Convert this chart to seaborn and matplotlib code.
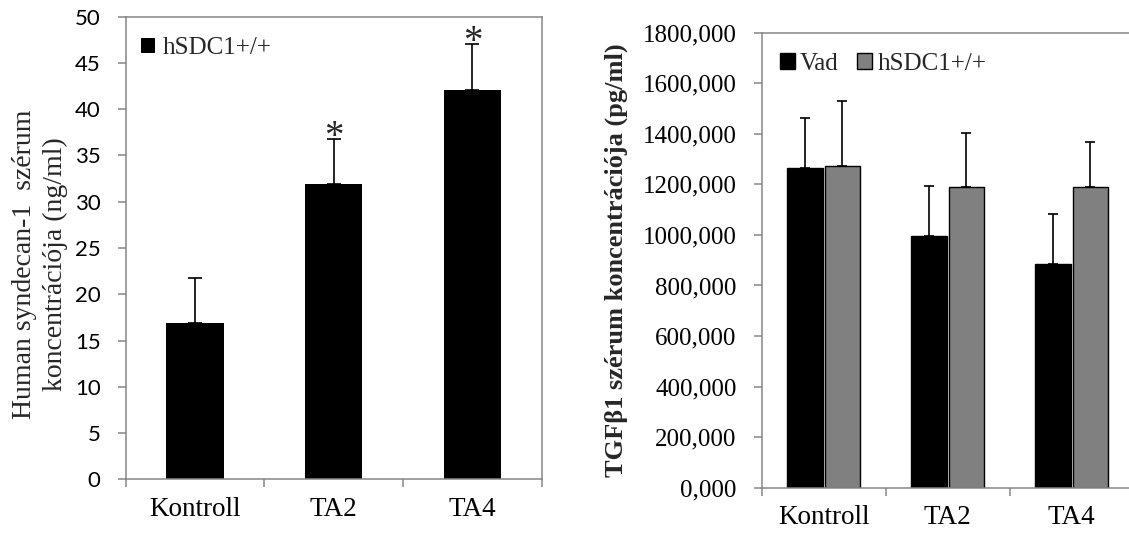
import matplotlib
matplotlib.use("Agg")
import matplotlib.pyplot as plt
import seaborn as sns
import pandas as pd
import numpy as np
from matplotlib.ticker import MultipleLocator, FuncFormatter, FixedLocator

# ---------------- data ----------------
categories = ["Kontroll", "TA2", "TA4"]

left_series = "hSDC1+/+"
left_values = [16.85, 31.9, 42.1]
left_errors = [4.95, 4.9, 5.0]
left_significant = [False, True, True]

right_series = ["Vad", "hSDC1+/+"]
vad_values = [1265, 996, 885]
vad_errors = [198, 196, 196]
hsdc_values = [1271, 1188, 1188]
hsdc_errors = [260, 214, 178]

left_ylabel = "Human syndecan-1  szérum\nkoncentrációja (ng/ml)"
right_ylabel = "TGFβ1 szérum koncentrációja (pg/ml)"

# ---------------- style ----------------
sns.set_theme(style="ticks")
plt.rcParams['font.family'] = ['Liberation Serif', 'DejaVu Serif']
SPINE = "#868686"

fig = plt.figure(figsize=(11.29, 5.36), dpi=100)
W, H = 1129, 536
axL = fig.add_axes([125.7 / W, (H - 479.3) / H, 416 / W, 462.6 / H])
axR = fig.add_axes([761.7 / W, (H - 487.7) / H, 372 / W, 455 / H])

# ---------------- left panel ----------------
dfL = pd.DataFrame({"cat": categories, "value": left_values, "series": left_series})
sns.barplot(data=dfL, x="cat", y="value", hue="series", palette=["black"],
            width=0.415, errorbar=None, saturation=1, linewidth=0, ax=axL, zorder=2)
xsL = [b.get_x() + b.get_width() / 2 for b in axL.containers[0]]
axL.errorbar(xsL, left_values, yerr=[np.zeros(len(left_values)), left_errors],
             fmt='none', ecolor='black', elinewidth=1.2, capsize=4.7, capthick=1.2, zorder=1)
for x, v, e, s in zip(xsL, left_values, left_errors, left_significant):
    if s:
        axL.annotate("*", xy=(x, v + e), xytext=(0, -8), textcoords='offset pixels',
                     ha='center', va='baseline', fontsize=28)
axL.set_ylim(0, 50)
axL.yaxis.set_major_locator(MultipleLocator(5))
axL.set_xlim(-0.5, 2.5)
for lab in axL.get_yticklabels():
    lab.set_fontfamily(['Lato', 'DejaVu Sans'])
    lab.set_fontsize(16)
axL.set_xlabel("")
axL.set_ylabel(left_ylabel, fontsize=20, va='center', linespacing=1.3)
axL.yaxis.set_label_coords(40 / W, (H - 264) / H, transform=fig.transFigure)
axL.legend(loc='center left', bbox_to_anchor=(0.0368, 0.932), frameon=False,
           borderpad=0, borderaxespad=0, handlelength=0.55, handleheight=0.55,
           handletextpad=0.3, fontsize=18, title=None)

# ---------------- right panel ----------------
dfR = pd.DataFrame({
    "cat": categories * 2,
    "value": vad_values + hsdc_values,
    "series": [right_series[0]] * 3 + [right_series[1]] * 3,
})
sns.barplot(data=dfR, x="cat", y="value", hue="series", palette=["black", "#808080"],
            width=0.6, gap=0.05, errorbar=None, saturation=1, edgecolor="black",
            linewidth=1.0, ax=axR, zorder=2)
for cont, vals, errs in zip(axR.containers, [vad_values, hsdc_values], [vad_errors, hsdc_errors]):
    xs = [b.get_x() + b.get_width() / 2 for b in cont]
    axR.errorbar(xs, vals, yerr=[np.zeros(len(vals)), errs], fmt='none', ecolor='black',
                 elinewidth=1.2, capsize=3.6, capthick=1.2, zorder=1)
axR.set_ylim(0, 1800)
axR.yaxis.set_major_locator(MultipleLocator(200))
axR.yaxis.set_major_formatter(FuncFormatter(lambda v, _: f"{v:.3f}".replace('.', ',')))
axR.set_xlim(-0.5, 2.5)
for lab in axR.get_yticklabels():
    lab.set_fontsize(18)
axR.set_xlabel("")
axR.set_ylabel(right_ylabel, fontsize=19, fontweight='bold', va='center')
axR.yaxis.set_label_coords(616.7 / W, (H - 260) / H, transform=fig.transFigure)
axR.legend(loc='center left', bbox_to_anchor=(0.049, 0.931), frameon=False, ncol=2,
           borderpad=0, borderaxespad=0, handlelength=0.6, handleheight=0.6,
           handletextpad=0.2, columnspacing=0.75, fontsize=18, title=None)

# ---------------- common axis styling ----------------
for ax in (axL, axR):
    for sp in ax.spines.values():
        sp.set_visible(True)
        sp.set_color(SPINE)
        sp.set_linewidth(1.1)
        sp.set_zorder(3)
    ax.tick_params(axis='y', which='major', direction='out', length=5.5, width=1.1,
                   color=SPINE, pad=12.5, labelcolor='black', left=True)
    ax.xaxis.set_minor_locator(FixedLocator([-0.5, 0.5, 1.5, 2.5]))
    ax.tick_params(axis='x', which='minor', direction='out', length=5.5, width=1.1,
                   color=SPINE, bottom=True)
    ax.tick_params(axis='x', which='major', length=0, pad=12.5, labelsize=19.5,
                   labelcolor='black')
    ax.set_facecolor('white')
    ax.grid(False)

fig.savefig("out.png", dpi=100, facecolor='white')
